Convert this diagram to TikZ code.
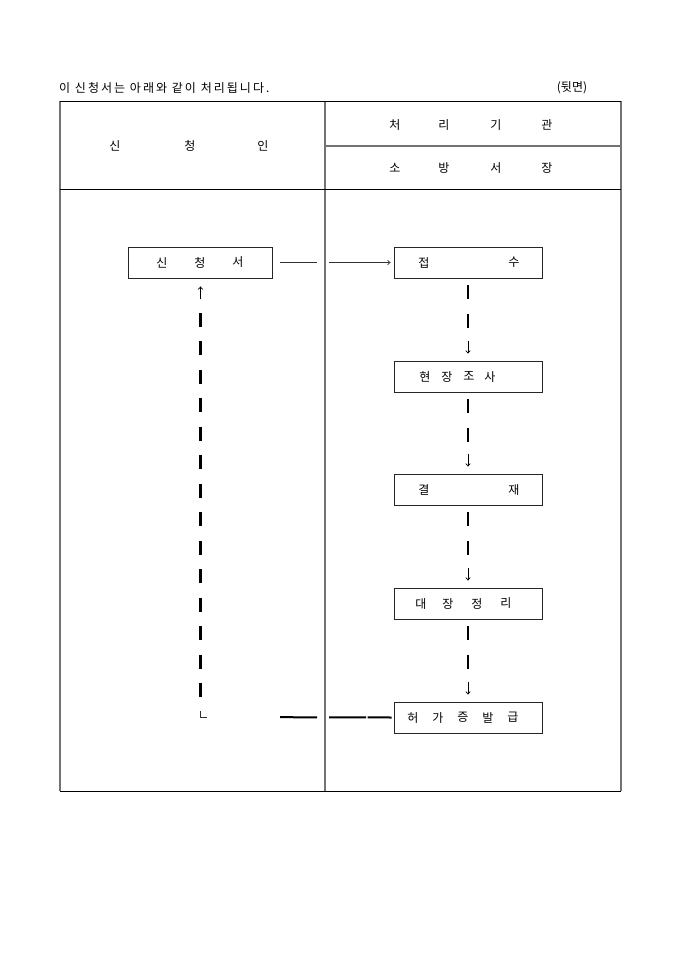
\documentclass[tikz,border=0pt]{standalone}
\usepackage{fontspec}
\newfontfamily\krfont{Noto Sans CJK KR}
\usetikzlibrary{arrows.meta}

\tikzset{
  txt/.style={inner sep=0pt, font=\krfont\fontsize{12}{14}\selectfont},
  procbox/.style={draw=black!85, line width=0.9pt, minimum width=148pt,
    minimum height=31pt, inner sep=0pt},
  frameline/.style={line width=1.3pt, black!55},
  ruleline/.style={line width=0.9pt, black},
  vbar/.style={line width=2.4pt, dash pattern=on 14pt off 14.5pt},
  thinline/.style={line width=0.7pt, black!80},
  thickline/.style={line width=2pt},
  glyph arrow/.style={line width=0.7pt, -{Straight Barb[length=2.5pt, width=4.5pt]}},
}

\begin{document}
\begin{tikzpicture}[x=1pt, y=-1pt]
  \useasboundingbox (0,0) rectangle (680,962);

  % heading above the table
  \node[txt, anchor=west] (title) at (59,88)
    {\addfontfeature{LetterSpace=17}이 신청서는 아래와 같이 처리됩니다.};
  \node[txt] (side) at (572,88) {(뒷면)};

  % table frame
  \foreach \x in {60, 325, 621}
    \draw[frameline] (\x,101) -- (\x,791);
  \foreach \y in {101, 189, 791}
    \draw[ruleline] (60,\y) -- (621,\y);
  \draw[frameline] (325,146) -- (621,146);

  % column heads
  \foreach \x/\s in {115/신, 190/청, 263/인}
    \node[txt] (h-\x) at (\x,146) {\s};
  \foreach \x/\s in {395/처, 444/리, 496/기, 547/관}
    \node[txt] (o-\x) at (\x,125) {\s};
  \foreach \x/\s in {395/소, 444/방, 496/서, 547/장}
    \node[txt] (f-\x) at (\x,168) {\s};

  % boxes
  \node[procbox, minimum width=144pt] (apply) at (200.5,262.5) {};
  \foreach \nm/\y in {jeopsu/262.5, josa/376.5, gyeolje/489.5,
    daejang/603.5, heoga/717.5}
    \node[procbox] (\nm) at (468,\y) {};

  \foreach \x/\s in {162/신, 200/청, 238/서}
    \node[txt] (a-\x) at (\x,262.5) {\s};
  \foreach \x/\s in {424/접, 514/수}
    \node[txt] (j-\x) at (\x,262.5) {\s};
  \foreach \x/\s in {425/현, 447/장, 469/조, 490/사}
    \node[txt] (s-\x) at (\x,376.5) {\s};
  \foreach \x/\s in {424/결, 514/재}
    \node[txt] (g-\x) at (\x,489.5) {\s};
  \foreach \x/\s in {421/대, 448/장, 477/정, 506/리}
    \node[txt] (d-\x) at (\x,603.5) {\s};
  \foreach \x/\s in {413/허, 438/가, 463/증, 488/발, 513/급}
    \node[txt] (p-\x) at (\x,717.5) {\s};

  % application goes to the office
  \draw[thinline, glyph arrow, shorten >=3pt,
    dash pattern=on 0pt off 7pt on 37pt off 12pt on 100pt]
    (apply.east) -- (jeopsu.west);

  % steps inside the office
  \foreach \a/\b in {jeopsu/josa, josa/gyeolje, gyeolje/daejang, daejang/heoga} {
    \draw[vbar] ([yshift=-7pt]\a.south) -- ([yshift=-49.5pt]\a.south);
    \draw[glyph arrow] ([yshift=20pt]\b.north) -- ([yshift=7pt]\b.north);
  }

  % permit goes back to the applicant
  \coordinate (turn) at (200.5,717);
  \draw[thickline, dash pattern=on 0pt off 2pt on 24pt off 1.5pt on 37pt off 12pt on 37pt off 100pt]
    (heoga.west) -- (turn);
  \draw[thinline] ([yshift=6pt]turn) |- ([xshift=6pt]turn);
  \draw[vbar] ([yshift=20pt]turn) -- ([yshift=-34.5pt]apply.south);
  \draw[glyph arrow] ([yshift=-21pt]apply.south) -- ([yshift=-8pt]apply.south);
\end{tikzpicture}
\end{document}
